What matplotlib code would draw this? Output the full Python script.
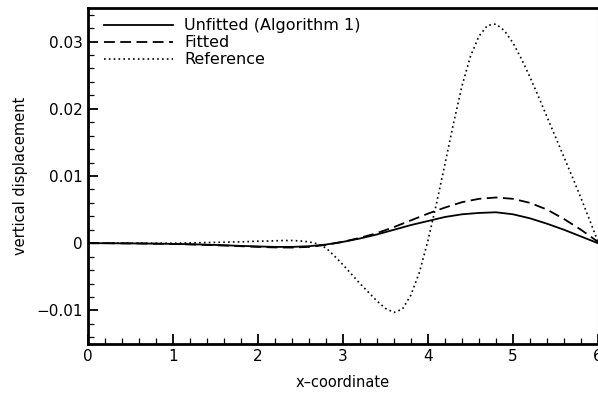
import numpy as np
import matplotlib
matplotlib.use("Agg")
import matplotlib.pyplot as plt
from matplotlib.ticker import MultipleLocator, FixedLocator, FixedFormatter

# DATA
x_smooth = [0.0, 0.2, 0.4, 0.6, 0.8, 1.0, 1.2, 1.4, 1.6, 1.8, 2.0, 2.2, 2.4, 2.6, 2.8,
            3.0, 3.2, 3.4, 3.6, 3.8, 4.0, 4.2, 4.4, 4.6, 4.8, 5.0, 5.2, 5.4, 5.6, 5.8, 6.0]
unfitted = [0.0, 0.0, -0.00002, -0.00004, -0.00007, -0.0001, -0.00015, -0.00022, -0.0003,
            -0.0004, -0.00048, -0.00055, -0.00055, -0.00045, -0.0002,
            0.0002, 0.0007, 0.0013, 0.0020, 0.0027, 0.0033, 0.0039, 0.0043, 0.0045, 0.0046,
            0.0043, 0.0037, 0.0029, 0.0020, 0.0010, 0.0]
fitted = [0.0, 0.0, -0.00002, -0.00004, -0.00008, -0.00012, -0.00018, -0.00026, -0.00035,
          -0.00045, -0.00055, -0.00063, -0.00065, -0.00055, -0.00025,
          0.0002, 0.0008, 0.0015, 0.0024, 0.0034, 0.0044, 0.0053, 0.0061, 0.0066, 0.0068,
          0.0066, 0.0060, 0.0050, 0.0036, 0.0020, 0.0002]

x_ref = [round(0.1 * i, 1) for i in range(61)]
reference = [0.0, 0.0, 0.0, 0.0, 0.0, 0.0, 0.0, 0.0, 0.0, 0.0,
             0.0, 0.00002, 0.00005, 0.00007, 0.0001, 0.00012, 0.00015, 0.00018, 0.0002, 0.00025,
             0.0003, 0.00032, 0.00036, 0.0004, 0.0004, 0.00033, 0.0002, -0.0001, -0.0007, -0.0019,
             -0.0032, -0.0046, -0.0060, -0.0073, -0.0086, -0.0097, -0.0103, -0.0098, -0.0077, -0.0043,
             0.0004, 0.0059, 0.0118, 0.0178, 0.0234, 0.0278, 0.0308, 0.0324, 0.0326, 0.0316,
             0.0298, 0.0274, 0.0247, 0.0218, 0.0188, 0.0158, 0.0128, 0.0098, 0.0067, 0.0035,
             0.0002]

y_ticks = [-0.01, 0.0, 0.01, 0.02, 0.03]
y_tick_labels = ['\u22120.01', '0', '0.01', '0.02', '0.03']
x_ticks = [0, 1, 2, 3, 4, 5, 6]

# PLOT
fig = plt.figure(figsize=(5.98, 3.95), dpi=100)
ax = fig.add_axes([0.147, 0.129, 0.853, 0.851])

ax.plot(x_smooth, unfitted, color='black', lw=1.3, ls='-', label='Unfitted (Algorithm 1)')
ax.plot(x_smooth, fitted, color='black', lw=1.3, ls=(0, (6, 3)), label='Fitted')
ax.plot(x_ref, reference, color='black', lw=1.2, ls=(0, (1, 1.9)), label='Reference')

ax.set_xlim(0, 6)
ax.set_ylim(-0.015, 0.035)
ax.xaxis.set_major_locator(FixedLocator(x_ticks))
ax.xaxis.set_minor_locator(MultipleLocator(0.2))
ax.yaxis.set_major_locator(FixedLocator(y_ticks))
ax.yaxis.set_major_formatter(FixedFormatter(y_tick_labels))
ax.yaxis.set_minor_locator(MultipleLocator(0.002))
ax.tick_params(which='both', direction='in', top=False, right=False, labelsize=11)
ax.tick_params(which='major', length=7, width=1.3)
ax.tick_params(which='minor', length=4, width=0.9)

for side in ['left', 'bottom', 'top']:
    ax.spines[side].set_linewidth(2)
ax.spines['right'].set_linewidth(0.8)
ax.spines['right'].set_color('#999999')

ax.set_xlabel('x\u2013coordinate', fontsize=10.5, labelpad=8)
ax.set_ylabel('vertical displacement', fontsize=10.5, labelpad=6)

ax.legend(loc='upper left', bbox_to_anchor=(0.012, 1.0), frameon=False, fontsize=11.5,
          handlelength=4.3, labelspacing=0.12, borderaxespad=0.25, borderpad=0.4,
          handletextpad=0.7)

fig.savefig('out.png', dpi=100)
